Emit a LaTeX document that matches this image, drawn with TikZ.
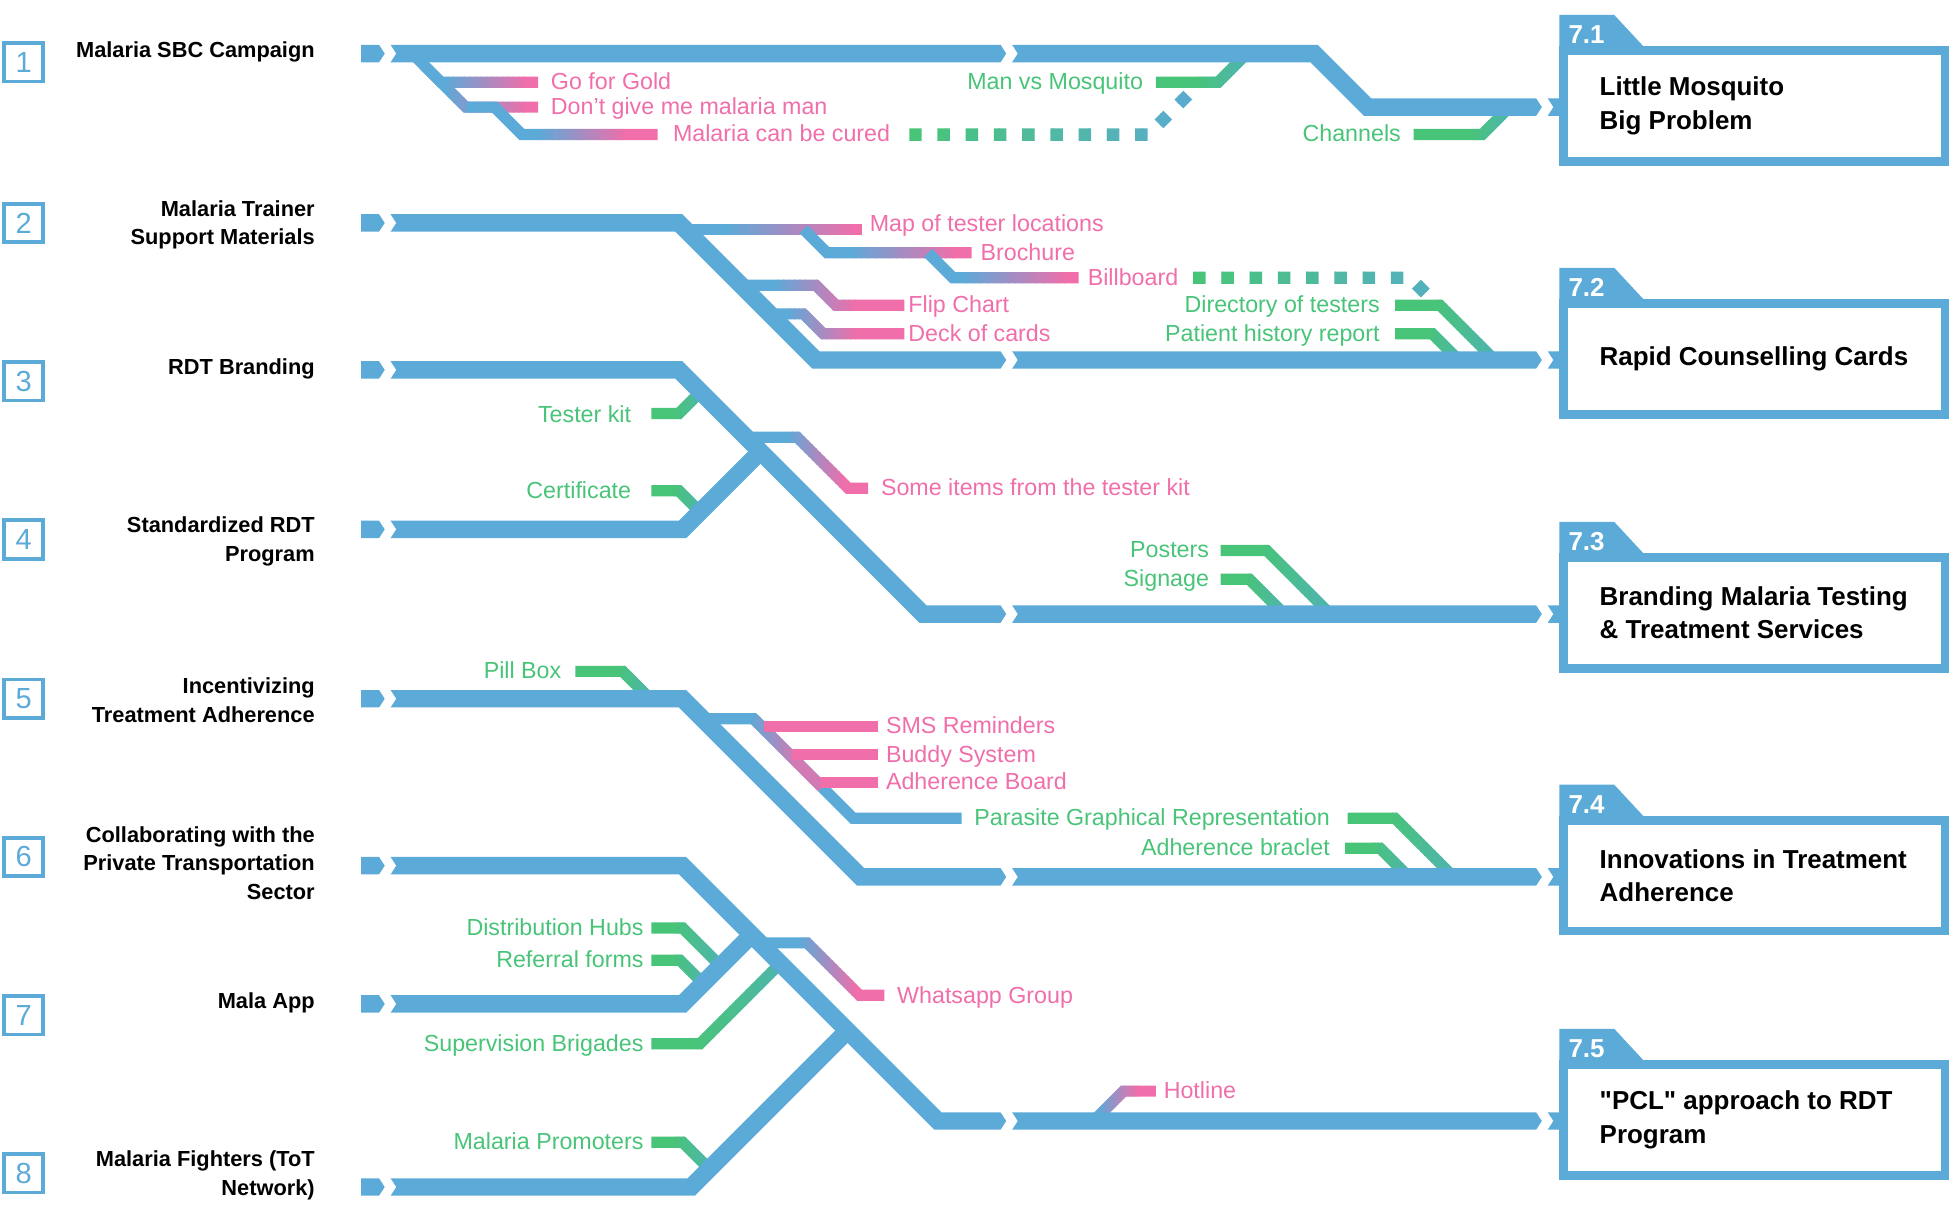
\documentclass[tikz,border=0pt]{standalone}
\usepackage{fontspec}
\setmainfont{Liberation Sans}[Ligatures=TeXOff]
\definecolor{mblue}{RGB}{92,170,216}
\definecolor{mpink}{RGB}{240,110,170}
\definecolor{mgreen}{RGB}{72,196,120}
\definecolor{mteal}{RGB}{78,182,168}

% colour runs from #3 (at x=#1) to #4 (at x=#2), drawn in thin strips
\newcommand{\gradpath}[6]{%
  \foreach \k in {0,...,15}{%
    \pgfmathsetmacro{\gxa}{\k==0 ? -50 : #1+(#2-#1)*\k/16}%
    \pgfmathsetmacro{\gxb}{\k==15 ? 2000 : #1+(#2-#1)*(\k+1)/16+0.8}%
    \pgfmathtruncatemacro{\gpc}{100*\k/15}%
    \begin{scope}
      \clip (\gxa,-50) rectangle (\gxb,1050);
      \draw[#5,draw=#4!\gpc!#3] #6;
    \end{scope}}}
% white chevron gap in a track
\newcommand{\cutmark}[2]{\fill[white] (#1,#2) ++(-5.5,-8.5) -- ++(9,0) -- ++(5.5,8.5) -- ++(-5.5,8.5) -- ++(-9,0) -- ++(5.5,-8.5) -- cycle;}
% result box with tab
\newcommand{\target}[4]{%
  \fill[mblue] (1252,#1-46) -- (1252,#1-74) -- (1296,#1-74) -- (1322,#1-46) -- cycle;
  \draw[mblue,line width=4.2pt] (1255.5,#1-45.5) rectangle (1561.5,#1+43.5);
  \node[tablabel] (#4n) at (1259,#1-58) {#2};
  \node[boxtitle] (#4) at (1284,#1-1) {#3};}

\begin{document}
\begin{tikzpicture}[x=0.6pt,y=-0.6pt,
  track/.style={draw=mblue,line width=8.4pt,line join=miter},
  branch/.style={line width=5.4pt,line join=miter},
  dots/.style={line width=6pt,dash pattern=on 6pt off 7.6pt},
  numbox/.style={draw=mblue,line width=1.8pt,minimum size=18.6pt,inner sep=0pt,text=mblue,font=\fontsize{14}{14}\selectfont},
  rowlabel/.style={anchor=east,align=right,inner sep=0pt,font=\bfseries\fontsize{10.5}{13.8}\selectfont},
  pinklabel/.style={anchor=west,inner sep=0pt,text height=7pt,text depth=0pt,text=mpink,font=\fontsize{11.2}{13}\selectfont},
  greenlabel/.style={anchor=east,inner sep=0pt,text height=7pt,text depth=0pt,text=mgreen,font=\fontsize{11.2}{13}\selectfont},
  boxtitle/.style={anchor=west,align=left,inner sep=0pt,font=\bfseries\fontsize{12.5}{16.2}\selectfont},
  tablabel/.style={anchor=west,inner sep=0pt,text=white,font=\bfseries\fontsize{12.5}{13}\selectfont}]
  \useasboundingbox (0,0) rectangle (1568,967);

  \foreach \i/\y in {1/50,2/179,3/306,4/433,5/561,6/688,7/815,8/942}
    \node[numbox] (n\i) at (19,\y) {\i};
  \node[rowlabel] (r1) at (253,42) {Malaria SBC Campaign};
  \node[rowlabel] (r2) at (253,180.5) {Malaria Trainer\\Support Materials};
  \node[rowlabel] (r3) at (253,296) {RDT Branding};
  \node[rowlabel] (r4) at (253,434.5) {Standardized RDT\\Program};
  \node[rowlabel] (r5) at (253,562) {Incentivizing\\Treatment Adherence};
  \node[rowlabel] (r6) at (253,693) {Collaborating with the\\Private Transportation\\Sector};
  \node[rowlabel] (r7) at (253,805) {Mala App};
  \node[rowlabel] (r8) at (253,943.5) {Malaria Fighters (ToT\\Network)};

  % side lines, under the tracks
  \gradpath{355}{425}{mblue}{mpink}{branch}{(340,52) -- (354,66) -- (432,66)}
  \gradpath{355}{425}{mblue}{mpink}{branch}{(331,43) -- (374,86) -- (432,86)}
  \gradpath{430}{505}{mblue}{mpink}{branch}{(374,86) -- (397,86) -- (419,108) -- (528,108)}
  \gradpath{730}{960}{mgreen}{mblue!80!mteal}{dots}{(730,108) -- (922,108) -- (962,68)}
  \gradpath{960}{995}{mgreen}{mteal}{branch}{(928,66) -- (978,66) -- (1001,43)}
  \gradpath{1180}{1210}{mgreen}{mteal}{branch}{(1135,108) -- (1190,108) -- (1212,86)}

  \gradpath{580}{690}{mblue}{mpink}{branch}{(550,184) -- (692,184)}
  \gradpath{680}{770}{mblue}{mpink}{branch}{(645,184) -- (664,203) -- (780,203)}
  \gradpath{770}{860}{mblue}{mpink}{branch}{(745,203) -- (765,223) -- (866,223)}
  \gradpath{958}{1140}{mgreen}{mteal!60!mblue}{dots}{(958,223) -- (1132,223) -- (1155,246)}
  \gradpath{1150}{1195}{mgreen}{mteal}{branch}{(1120,245) -- (1156,245) -- (1200,289)}
  \gradpath{1145}{1172}{mgreen}{mteal}{branch}{(1120,268) -- (1150,268) -- (1171,289)}
  \gradpath{620}{690}{mblue}{mpink}{branch}{(595,229) -- (655,229) -- (671,245) -- (726,245)}
  \gradpath{630}{690}{mblue}{mpink}{branch}{(618,252) -- (645,252) -- (661,268) -- (726,268)}

  \gradpath{540}{565}{mgreen}{mteal}{branch}{(523,332) -- (545,332) -- (566,311)}
  \gradpath{540}{562}{mgreen}{mteal}{branch}{(523,394) -- (545,394) -- (562,411)}
  \gradpath{630}{680}{mblue}{mpink}{branch}{(600,351) -- (640,351) -- (681,392) -- (697,392)}
  \gradpath{1010}{1060}{mgreen}{mteal}{branch}{(980,442) -- (1017,442) -- (1068,493)}
  \gradpath{1000}{1030}{mgreen}{mteal}{branch}{(980,465) -- (1003,465) -- (1031,493)}

  \gradpath{495}{520}{mgreen}{mteal}{branch}{(462,539) -- (500,539) -- (522,561)}
  \draw[branch,mblue] (564,577) -- (605,577) -- (685,657) -- (772,657);
  \gradpath{600}{640}{mblue}{mpink!80!mblue}{branch}{(605,577) -- (660,632)}
  \draw[branch,mpink] (613,583) -- (705,583);
  \draw[branch,mpink] (636,606) -- (705,606);
  \draw[branch,mpink] (658,628) -- (705,628);
  \gradpath{1115}{1160}{mgreen}{mteal}{branch}{(1082,657) -- (1120,657) -- (1167,704)}
  \gradpath{1100}{1130}{mgreen}{mteal}{branch}{(1080,681) -- (1108,681) -- (1131,704)}

  \gradpath{540}{575}{mgreen}{mteal}{branch}{(523,745) -- (548,745) -- (578,775)}
  \gradpath{540}{565}{mgreen}{mteal}{branch}{(523,771) -- (546,771) -- (565,790)}
  \gradpath{555}{625}{mgreen}{mteal}{branch}{(523,838) -- (562,838) -- (627,773)}
  \gradpath{640}{690}{mblue}{mpink}{branch}{(610,757) -- (648,757) -- (690,799) -- (710,799)}
  \gradpath{540}{568}{mgreen}{mteal}{branch}{(523,917) -- (548,917) -- (569,938)}
  \gradpath{880}{915}{mblue}{mpink}{branch}{(878,900) -- (902,876) -- (928,876)}

  % tracks
  \draw[track] (290,43) -- (1055,43) -- (1098,86) -- (1256,86);
  \draw[track] (290,179) -- (545,179) -- (655,289) -- (1256,289);
  \draw[track] (290,297) -- (545,297) -- (741,493) -- (1256,493);
  \draw[track] (290,425) -- (548,425) -- (611,362);
  \draw[track] (290,561) -- (548,561) -- (691,704) -- (1256,704);
  \draw[track] (290,695) -- (548,695) -- (753,900) -- (1256,900);
  \draw[track] (290,806) -- (548,806) -- (604,750);
  \draw[track] (290,953) -- (555,953) -- (681,827);
  \foreach \y in {43,179,297,425,561,695,806,953} {\cutmark{309}{\y}}
  \foreach \y in {43,289,493,704,900} {\cutmark{808}{\y}}
  \foreach \y in {86,289,493,704,900} {\cutmark{1238}{\y}}

  \target{86}{7.1}{Little Mosquito\\Big Problem}{b1}
  \target{289}{7.2}{Rapid Counselling Cards}{b2}
  \target{493}{7.3}{Branding Malaria Testing\\\& Treatment Services}{b3}
  \target{704}{7.4}{Innovations in Treatment\\Adherence}{b4}
  \target{900}{7.5}{"PCL" approach to RDT\\Program}{b5}

  \node[pinklabel] (gold) at (442,66) {Go for Gold};
  \node[pinklabel] (man) at (442,86) {Don’t give me malaria man};
  \node[pinklabel] (cured) at (540,108) {Malaria can be cured};
  \node[greenlabel] (mvm) at (918,66) {Man vs Mosquito};
  \node[greenlabel] (chan) at (1125,108) {Channels};
  \node[pinklabel] (map) at (698,180) {Map of tester locations};
  \node[pinklabel] (broch) at (787,203) {Brochure};
  \node[pinklabel] (bill) at (873,223) {Billboard};
  \node[pinklabel] (flip) at (729,245) {Flip Chart};
  \node[pinklabel] (deck) at (729,268) {Deck of cards};
  \node[greenlabel] (dir) at (1108,245) {Directory of testers};
  \node[greenlabel] (hist) at (1108,268) {Patient history report};
  \node[greenlabel] (kit) at (507,333) {Tester kit};
  \node[greenlabel] (cert) at (507,394) {Certificate};
  \node[pinklabel] (items) at (707,392) {Some items from the tester kit};
  \node[greenlabel] (post) at (971,442) {Posters};
  \node[greenlabel] (sign) at (971,465) {Signage};
  \node[greenlabel] (pill) at (451,539) {Pill Box};
  \node[pinklabel] (sms) at (711,583) {SMS Reminders};
  \node[pinklabel] (buddy) at (711,606) {Buddy System};
  \node[pinklabel] (board) at (711,628) {Adherence Board};
  \node[greenlabel] (para) at (1068,657) {Parasite Graphical Representation};
  \node[greenlabel] (brac) at (1068,681) {Adherence braclet};
  \node[greenlabel] (hubs) at (517,745) {Distribution Hubs};
  \node[greenlabel] (refer) at (517,771) {Referral forms};
  \node[greenlabel] (brig) at (517,838) {Supervision Brigades};
  \node[greenlabel] (prom) at (517,917) {Malaria Promoters};
  \node[pinklabel] (whats) at (720,800) {Whatsapp Group};
  \node[pinklabel] (hot) at (934,876) {Hotline};
\end{tikzpicture}
\end{document}
